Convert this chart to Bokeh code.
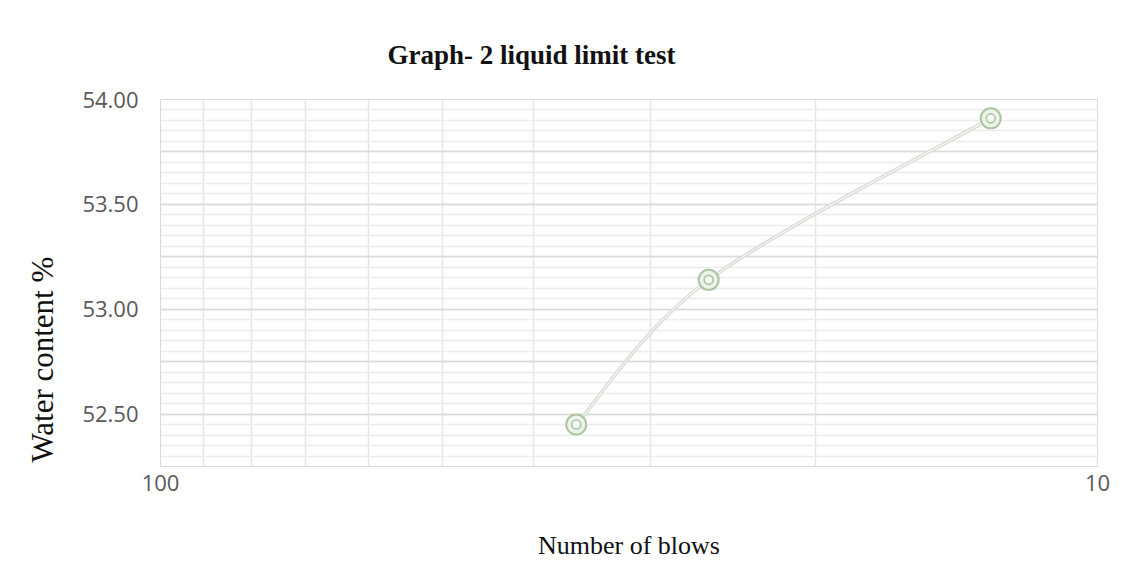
import numpy as np
from bokeh.plotting import figure
from bokeh.models import Range1d, FixedTicker, CustomJSTickFormatter, NumeralTickFormatter, Title
from bokeh.embed import file_html
from bokeh.resources import INLINE

title_text = "Graph- 2 liquid limit test"
x_title = "Number of blows"
y_title = "Water content %"

blows = [36, 26, 13]
water = [52.45, 53.14, 53.91]

y_labels = [52.5, 53.0, 53.5, 54.0]
y_grid_major = [52.25, 52.5, 52.75, 53.0, 53.25, 53.5, 53.75, 54.0]
y_grid_minor = [round(52.25 + 0.05 * i, 2) for i in range(36)]
x_grid = [20, 30, 40, 50, 60, 70, 80, 90]
x_labels = [100, 10]

W, H = 1119, 566
p = figure(width=W, height=H, x_axis_type="log",
           x_range=Range1d(100, 10), y_range=Range1d(52.25, 54.0),
           output_backend="svg", toolbar_location=None,
           min_border_left=160, min_border_right=W - 1097,
           min_border_top=99, min_border_bottom=H - 466)
p.background_fill_color = "white"
p.border_fill_color = "white"
p.outline_line_color = "#d9d9d9"
p.outline_line_width = 1

# title
p.title.text = title_text
p.title.text_font = "Liberation Serif"
p.title.text_font_style = "bold"
p.title.text_font_size = "27px"
p.title.text_color = "#111111"
p.title.align = "left"
p.title.offset = 227
p.title.standoff = 60

# y axis
p.yaxis.ticker = FixedTicker(ticks=y_labels)
p.yaxis.formatter = NumeralTickFormatter(format="0.00")
p.yaxis.major_tick_line_color = None
p.yaxis.minor_tick_line_color = None
p.yaxis.axis_line_color = None
p.yaxis.major_label_text_font = "Open Sans"
p.yaxis.major_label_text_font_size = "22px"
p.yaxis.major_label_text_color = "#595959"
p.yaxis.major_label_standoff = 16

# y axis title as a left-side title, aligned from the bottom
yt = Title(text=y_title, align="left", offset=4, standoff=40,
           text_font="Liberation Serif", text_font_style="normal",
           text_font_size="31px", text_color="#111111")
p.add_layout(yt, "left")

# x axis
p.xaxis.ticker = FixedTicker(ticks=x_labels, minor_ticks=[])
p.xaxis.formatter = CustomJSTickFormatter(code="return String(Math.round(tick));")
p.xaxis.major_tick_line_color = None
p.xaxis.minor_tick_line_color = None
p.xaxis.axis_line_color = None
p.xaxis.major_label_text_font = "Open Sans"
p.xaxis.major_label_text_font_size = "22px"
p.xaxis.major_label_text_color = "#595959"
p.xaxis.major_label_standoff = 2
p.xaxis.axis_label = x_title
p.xaxis.axis_label_text_font = "Liberation Serif"
p.xaxis.axis_label_text_font_style = "normal"
p.xaxis.axis_label_text_font_size = "26px"
p.xaxis.axis_label_text_color = "#111111"
p.xaxis.axis_label_standoff = 37

# grids
p.ygrid.ticker = FixedTicker(ticks=y_grid_major, minor_ticks=y_grid_minor)
p.ygrid.grid_line_color = "#d9d9d9"
p.ygrid.grid_line_width = 1.5
p.ygrid.minor_grid_line_color = "#ececec"
p.ygrid.minor_grid_line_width = 1.5
p.xgrid.ticker = FixedTicker(ticks=x_grid, minor_ticks=[])
p.xgrid.grid_line_color = "#e6e6e6"
p.xgrid.grid_line_width = 1.5

# smoothed line (Excel-style Catmull-Rom bezier in log-x space)
lx = np.log10(np.array(blows, dtype=float))
yy = np.array(water, dtype=float)
n = len(lx)
x0s, y0s, x1s, y1s, c0x, c0y, c1x, c1y = [], [], [], [], [], [], [], []
for i in range(n - 1):
    pm = max(i - 1, 0)
    pp = min(i + 2, n - 1)
    x0s.append(10 ** lx[i]); y0s.append(yy[i])
    x1s.append(10 ** lx[i + 1]); y1s.append(yy[i + 1])
    c0x.append(10 ** (lx[i] + (lx[i + 1] - lx[pm]) / 6)); c0y.append(yy[i] + (yy[i + 1] - yy[pm]) / 6)
    c1x.append(10 ** (lx[i + 1] - (lx[pp] - lx[i]) / 6)); c1y.append(yy[i + 1] - (yy[pp] - yy[i]) / 6)
p.bezier(x0=x0s, y0=y0s, x1=x1s, y1=y1s, cx0=c0x, cy0=c0y, cx1=c1x, cy1=c1y,
         line_color="#d6d9d2", line_width=3.5)
p.bezier(x0=x0s, y0=y0s, x1=x1s, y1=y1s, cx0=c0x, cy0=c0y, cx1=c1x, cy1=c1y,
         line_color="#f6f7f4", line_width=1.2)

# markers: bullseye
p.scatter(blows, water, size=20, marker="circle", fill_color="#eef3ea",
          line_color="#acc5a2", line_width=2)
p.scatter(blows, water, size=9, marker="circle", fill_color="#f7faf5",
          line_color="#acc5a2", line_width=1.6)

open("out.html", "w").write(file_html(p, INLINE))
